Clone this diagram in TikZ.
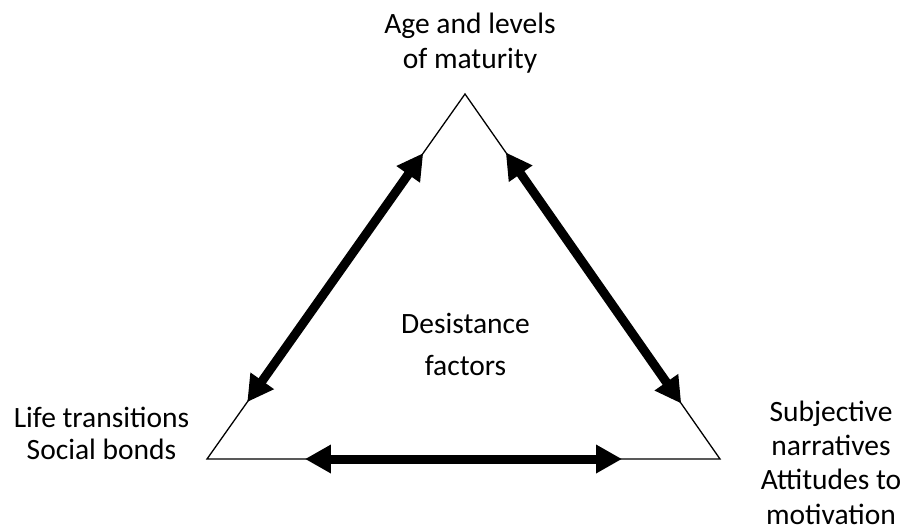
\documentclass[tikz,border=0pt]{standalone}
\usepackage{fontspec}
\setmainfont{Carlito}
\usetikzlibrary{arrows.meta,calc}
\begin{document}
\begin{tikzpicture}[x=1pt,y=-1pt,
  lbl/.style={inner sep=0pt,outer sep=0pt,align=center,anchor=base},
  edge/.style={line width=1.3pt},
  dbl/.style={line width=9pt,{Triangle[length=26pt,width=27pt]}-{Triangle[length=26pt,width=27pt]}}]
\useasboundingbox (0,0) rectangle (904,531);
\coordinate (A) at (465,94);
\coordinate (L) at (207,459);
\coordinate (R) at (720,459);
\draw[edge,line join=miter] (A) -- (L) -- (R) -- cycle;
\coordinate (la) at ($(A)!0.162!(L)$);
\coordinate (lb) at ($(A)!0.844!(L)$);
\coordinate (ra) at ($(A)!0.160!(R)$);
\coordinate (rb) at ($(A)!0.848!(R)$);
\coordinate (ba) at ($(L)!0.191!(R)$);
\coordinate (bb) at ($(L)!0.809!(R)$);
\draw[dbl] (la) -- (lb);
\draw[dbl] (ra) -- (rb);
\draw[dbl] (ba) -- (bb);
\node[lbl,font=\fontsize{29.5}{35}\selectfont] (top) at (470,68) {Age and levels\\of maturity};
\node[lbl,font=\fontsize{29.5}{42}\selectfont] (mid) at (465.5,375) {Desistance\\factors};
\node[lbl,font=\fontsize{29.5}{32}\selectfont] (left) at (101.5,459) {Life transitions\\Social bonds};
\node[lbl,font=\fontsize{29.5}{34.3}\selectfont] (right) at (831,524) {Subjective\\narratives\\Attitudes to\\motivation};
\end{tikzpicture}
\end{document}
